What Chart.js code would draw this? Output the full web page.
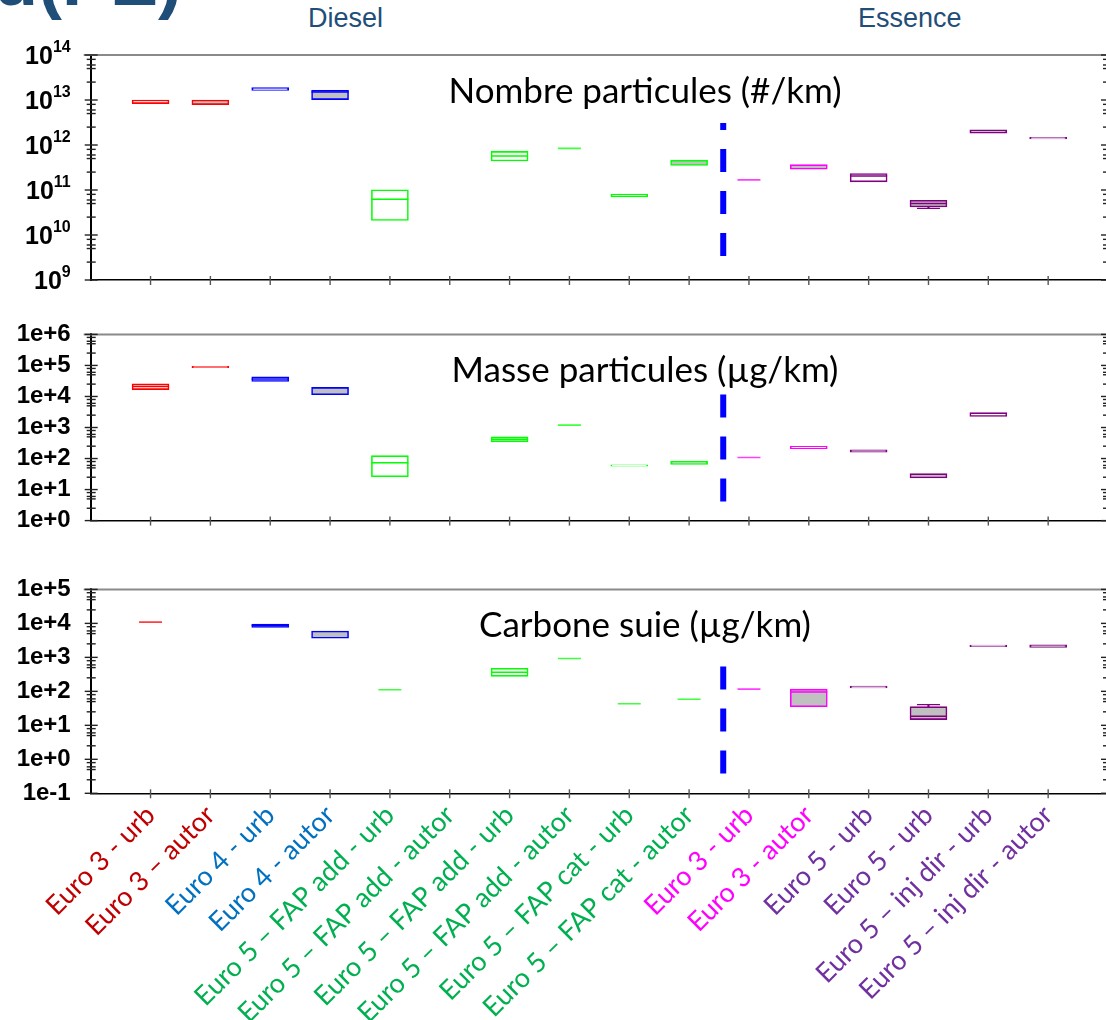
<!DOCTYPE html>
<html>
<head>
<meta charset="utf-8">
<script src="https://cdn.jsdelivr.net/npm/chart.js@4.4.0/dist/chart.umd.min.js"></script>
<style>
  html, body { margin: 0; padding: 0; width: 1106px; height: 1020px; overflow: hidden; background: #fff; }
  canvas { position: absolute; left: 0; }
  .head { position: absolute; color: #1f4e79; font-family: "Liberation Sans", Arial, sans-serif; white-space: nowrap; }
  #slideTitle { left: -6px; top: -56px; font-size: 72px; line-height: 72px; font-weight: bold; }
  #diesel { left: 308px; top: 5px; font-size: 27px; line-height: 27px; }
  #essence { left: 858px; top: 5px; font-size: 27px; line-height: 27px; }
</style>
</head>
<body>
<div class="head" id="slideTitle">d(PE)</div>
<div class="head" id="diesel">Diesel</div>
<div class="head" id="essence">Essence</div>
<canvas id="nombre" width="1128" height="300" style="top:0px"></canvas>
<canvas id="masse" width="1128" height="255" style="top:300px"></canvas>
<canvas id="suie" width="1128" height="465" style="top:555px"></canvas>
<script>
// categories along the x axis (one tick each)
const categories = ['Euro 3 - urb', 'Euro 3 – autor', 'Euro 4 - urb', 'Euro 4 - autor',
  'Euro 5 – FAP add - urb', 'Euro 5 – FAP add - autor', 'Euro 5 – FAP add - urb', 'Euro 5 – FAP add - autor',
  'Euro 5 – FAP cat - urb', 'Euro 5 – FAP cat - autor', 'Euro 3 - urb', 'Euro 3 - autor',
  'Euro 5 - urb', 'Euro 5 - urb', 'Euro 5 – inj dir - urb', 'Euro 5 – inj dir - autor'];
const labelColors = ['#c00000', '#c00000', '#0070c0', '#0070c0',
  '#00b050', '#00b050', '#00b050', '#00b050', '#00b050', '#00b050',
  '#ff00ff', '#ff00ff', '#7030a0', '#7030a0', '#7030a0', '#7030a0'];
const boxColors = ['#ff0000', '#ff0000', '#0000ff', '#0000ff',
  '#00ff00', '#00ff00', '#00ff00', '#00ff00', '#00ff00', '#00ff00',
  '#ff00ff', '#ff00ff', '#800080', '#800080', '#800080', '#800080'];

// Nombre particules (#/km)
const nombreTickExps = [9, 10, 11, 12, 13, 14];
const nombreLow  = [8.3e12, 7.9e12, 1.63e13, 1.02e13, 2.1e10, null, 4.4e11, null, 7.0e10, 3.5e11, null, 2.9e11, 1.52e11, 4.2e10, 1.83e12, 1.37e12];
const nombreMed  = [null, null, null, 1.5e13, 6.2e10, null, 5.7e11, null, null, null, null, null, 2.05e11, 5.0e10, null, null];
const nombreHigh = [1.0e13, 1.0e13, 1.88e13, 1.65e13, 1.01e11, null, 7.2e11, null, 8.1e10, 4.6e11, null, 3.65e11, 2.32e11, 5.9e10, 2.16e12, 1.48e12];
const nombreSingle = [null, null, null, null, null, null, null, 8.4e11, null, null, 1.68e11, null, null, null, null, null];
const nombreGray = [0, 1, 0, 1, 0, 0, 0, 0, 0, 1, 0, 1, 0, 1, 1, 0];
const nombreWhiskLow = [null, null, null, null, null, null, null, null, null, null, null, null, null, 3.9e10, null, null];
const nombreDivider = [3.4e9, 3.1e12];

// Masse particules (µg/km)
const masseTickLabels = ['1e+0', '1e+1', '1e+2', '1e+3', '1e+4', '1e+5', '1e+6'];
const masseLow  = [1.66e4, 8.5e4, 3.05e4, 1.14e4, 26, null, 346, null, 57, 65, null, 206, 160, 23.7, 2260, null];
const masseMed  = [2.08e4, null, 3.65e4, null, 73.5, null, 415, null, null, null, null, null, null, null, null, null];
const masseHigh = [2.54e4, 9.3e4, 4.3e4, 1.96e4, 124, null, 497, null, 63, 81, null, 246, 190, 32.6, 3000, null];
const masseSingle = [null, null, null, null, null, null, null, 1190, null, null, 108, null, null, null, null, null];
const masseGray = [0, 0, 0, 1, 0, 0, 0, 0, 0, 1, 0, 0, 0, 1, 0, 0];
const masseDivider = [4.1, 1.54e4];

// Carbone suie (µg/km)
const suieTickLabels = ['1e-1', '1e+0', '1e+1', '1e+2', '1e+3', '1e+4', '1e+5'];
const suieLow  = [null, null, 7550, 3650, null, null, 277, null, null, null, null, 35.4, 126, 14.8, 2050, 1960];
const suieMed  = [null, null, 8600, null, null, null, 366, null, null, null, null, 95, null, 18.5, null, null];
const suieHigh = [null, null, 9600, 5930, null, null, 478, null, null, null, null, 116, 142, 35.4, 2300, 2350];
const suieSingle = [10900, null, null, null, 112, null, null, 929, 43.3, 58.5, 116, null, null, null, null, null];
const suieGray = [0, 0, 1, 1, 0, 0, 0, 0, 0, 0, 0, 1, 0, 1, 0, 1];
const suieWhiskHigh = [null, null, null, null, null, null, null, null, null, null, null, null, null, 40.7, null, null];
const suieDivider = [0.385, 1734];

const dividerX = 10.57;        // between diesel and essence groups
const minorMultiples = [2.5, 5, 6, 8];
const GRAY = '#c0c0c0';
const AXIS_W = 90.7;
const TITLE_X = 645;
const sans = "'Liberation Sans', Arial, sans-serif";

function points(vals) {
  const out = [];
  vals.forEach((v, i) => { if (v != null) out.push({ x: i + 1, y: v }); });
  return out;
}
function ranges(a, b) {
  const out = [];
  a.forEach((v, i) => { if (v != null && b[i] != null) out.push({ x: i + 1, y: [v, b[i]] }); });
  return out;
}
const colorOf = c => c.raw ? boxColors[c.raw.x - 1] : '#000';

// axis frame, minor ticks, titles and superscript labels
const panelDeco = {
  id: 'panelDeco',
  afterDraw(chart, args, opts) {
    const { ctx, chartArea: a, scales: { x, y } } = chart;
    ctx.save();
    ctx.strokeStyle = '#8a8a8a';
    ctx.lineWidth = 2;
    ctx.beginPath(); ctx.moveTo(a.left - 7, a.top); ctx.lineTo(a.right + 5, a.top); ctx.stroke();

    const hmark = (px, py, out, inn, side) => {
      ctx.beginPath();
      if (side < 0) { ctx.moveTo(px - out, py); ctx.lineTo(px + inn, py); }
      else { ctx.moveTo(px - inn, py); ctx.lineTo(px + out, py); }
      ctx.stroke();
    };
    ctx.strokeStyle = '#222';
    ctx.lineWidth = 1.4;
    const lo = Math.round(Math.log10(y.min)), hi = Math.round(Math.log10(y.max));
    for (let e = lo; e <= hi; e++) {
      const py = y.getPixelForValue(Math.pow(10, e));
      hmark(a.left, py, 6, 7, -1);
      hmark(a.right, py, 6, 7, 1);
      if (e < hi) {
        minorMultiples.forEach(m => {
          const pm = y.getPixelForValue(m * Math.pow(10, e));
          hmark(a.left, pm, 4, 5, -1);
          hmark(a.right, pm, 4, 5, 1);
        });
      }
    }
    ctx.strokeStyle = '#555';
    categories.forEach((c, i) => {
      const px = x.getPixelForValue(i + 1);
      ctx.beginPath(); ctx.moveTo(px, a.bottom - 4); ctx.lineTo(px, a.bottom + 5); ctx.stroke();
    });

    if (opts.exps) {
      ctx.fillStyle = '#000';
      ctx.textAlign = 'right';
      ctx.textBaseline = 'alphabetic';
      opts.exps.forEach(e => {
        const py = y.getPixelForValue(Math.pow(10, e));
        const xr = a.left - 20;
        ctx.font = 'bold 16px ' + sans;
        const ew = ctx.measureText(String(e)).width;
        ctx.fillText(String(e), xr, py - 3);
        ctx.font = 'bold 25px ' + sans;
        ctx.fillText('10', xr - ew, py + 9);
      });
    }

    ctx.fillStyle = '#000';
    ctx.textAlign = 'center';
    ctx.textBaseline = 'alphabetic';
    ctx.font = "35px Lato, 'Open Sans', sans-serif";
    ctx.fillText(opts.title, TITLE_X, a.top + 48);
    ctx.restore();
  }
};

function makePanel(id, p) {
  const datasets = [
    {
      type: 'bar', data: ranges(p.low, p.high), grouped: false, barThickness: 37,
      borderSkipped: false, borderWidth: 1.6, order: 3,
      borderColor: colorOf,
      backgroundColor: c => (c.raw && p.gray[c.raw.x - 1]) ? GRAY : '#ffffff'
    },
    {
      type: 'line', data: points(p.med), showLine: false, order: 1,
      pointStyle: 'line', pointRadius: 18.5, pointBorderWidth: 1.5, pointBorderColor: colorOf
    },
    {
      type: 'line', data: points(p.single), showLine: false, order: 1,
      pointStyle: 'line', pointRadius: 11.5, pointBorderWidth: 1.6,
      pointBorderColor: c => c.raw ? boxColors[c.raw.x - 1] + 'c0' : '#000'
    },
    {
      type: 'line', data: [{ x: dividerX, y: p.divider[0] }, { x: dividerX, y: p.divider[1] }],
      borderColor: '#0000ff', borderWidth: 6, borderDash: [23, 19], borderCapStyle: 'butt',
      pointRadius: 0, order: 0
    }
  ];
  [p.whiskLow ? [p.low, p.whiskLow] : null, p.whiskHigh ? [p.high, p.whiskHigh] : null].forEach(w => {
    if (!w) return;
    datasets.push({
      type: 'bar', data: ranges(w[0], w[1]), grouped: false, barThickness: 1.5,
      borderWidth: 0, backgroundColor: colorOf, order: 4
    });
    datasets.push({
      type: 'line', data: points(w[1]), showLine: false, order: 2,
      pointStyle: 'line', pointRadius: 11.5, pointBorderWidth: 1.4, pointBorderColor: colorOf
    });
  });

  return new Chart(document.getElementById(id), {
    type: 'bar',
    data: { datasets },
    plugins: [panelDeco],
    options: {
      responsive: false,
      animation: false,
      events: [],
      layout: { padding: { top: p.padTop, right: 1.8, left: 0, bottom: 0 } },
      plugins: {
        legend: { display: false },
        tooltip: { enabled: false },
        panelDeco: { title: p.title, exps: p.exps || null }
      },
      scales: {
        x: {
          type: 'linear', min: 0, max: 17, offset: false, bounds: 'ticks',
          afterBuildTicks: s => { s.ticks = categories.map((c, i) => ({ value: i + 1 })); },
          afterFit: s => { s.height = p.xHeight; },
          grid: { display: false, drawTicks: false, offset: false },
          border: { color: '#000', width: 1.6 },
          ticks: {
            display: !!p.showLabels, autoSkip: false, minRotation: 45, maxRotation: 45, padding: 6,
            font: { family: "Lato, 'Open Sans', sans-serif", size: 27 },
            color: c => labelColors[c.index],
            callback: (v, i) => categories[i]
          }
        },
        y: {
          type: 'logarithmic', min: p.tickValues[0], max: p.tickValues[p.tickValues.length - 1],
          afterBuildTicks: s => { s.ticks = p.tickValues.map(v => ({ value: v, major: true })); },
          afterFit: s => { s.width = AXIS_W; },
          grid: { display: false, drawTicks: false },
          border: { color: '#000', width: 2 },
          ticks: {
            display: !p.exps, padding: 20, color: '#000',
            font: { family: sans, size: 24, weight: 'bold' },
            callback: (v, i) => p.tickLabels ? p.tickLabels[i] : ''
          }
        }
      }
    }
  });
}

makePanel('nombre', {
  title: 'Nombre particules (#/km)', exps: nombreTickExps,
  tickValues: nombreTickExps.map(e => Math.pow(10, e)),
  low: nombreLow, med: nombreMed, high: nombreHigh, single: nombreSingle, gray: nombreGray,
  whiskLow: nombreWhiskLow, divider: nombreDivider, padTop: 55, xHeight: 16.7
});
makePanel('masse', {
  title: 'Masse particules (µg/km)', tickLabels: masseTickLabels,
  tickValues: masseTickLabels.map(Number),
  low: masseLow, med: masseMed, high: masseHigh, single: masseSingle, gray: masseGray,
  divider: masseDivider, padTop: 10, xHeight: 16.7
});
makePanel('suie', {
  title: 'Carbone suie (µg/km)', tickLabels: suieTickLabels,
  tickValues: suieTickLabels.map(Number),
  low: suieLow, med: suieMed, high: suieHigh, single: suieSingle, gray: suieGray,
  whiskHigh: suieWhiskHigh, divider: suieDivider, padTop: 10, xHeight: 226.7, showLabels: true
});
</script>
</body>
</html>
